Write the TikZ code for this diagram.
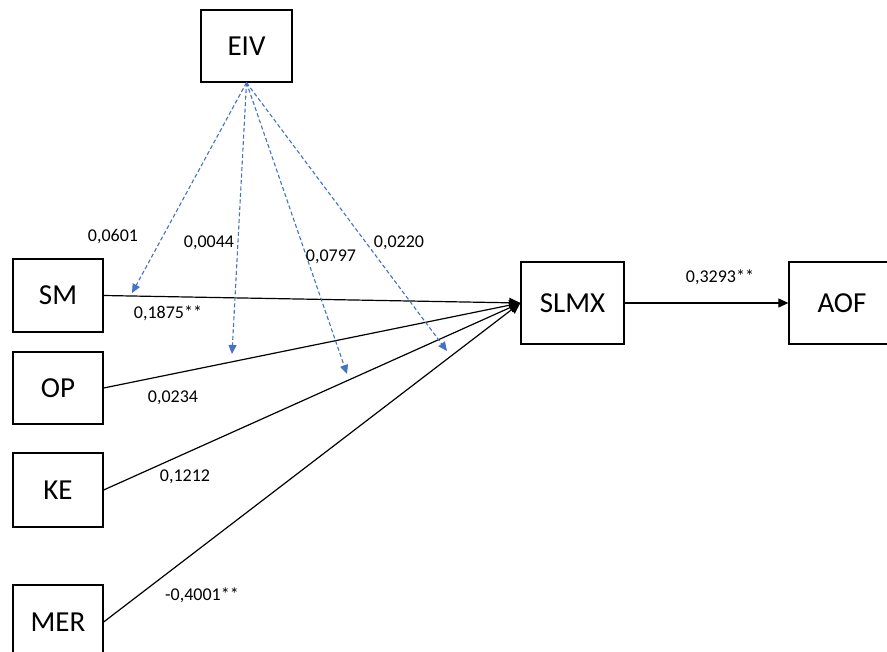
\documentclass[tikz,border=0pt]{standalone}
\usepackage{fontspec}
\setmainfont{Carlito}
\usetikzlibrary{arrows.meta}
\definecolor{dashblue}{HTML}{4472C4}
\begin{document}
\begin{tikzpicture}[x=1pt,y=-1pt,
  box/.style={draw=black,line width=1.3pt,font=\fontsize{29}{32}\selectfont,inner sep=0pt},
  lbl/.style={font=\fontsize{18}{20}\selectfont,inner sep=0pt},
  path/.style={draw=black,line width=1.2pt},
  modline/.style={draw=dashblue,line width=1.1pt,dash pattern=on 4pt off 2.5pt,-{Triangle[length=9pt,width=8pt]}}
]
\useasboundingbox (0,0) rectangle (887,652);
\node[box,minimum width=90pt,minimum height=73pt] (SM) at (58,295.5) {SM};
\node[box,minimum width=90pt,minimum height=72pt] (OP) at (58,388) {OP};
\node[box,minimum width=90pt,minimum height=74pt] (KE) at (58,490) {KE};
\node[box,minimum width=90pt,minimum height=74pt] (MER) at (58,622) {MER};
\node[box,minimum width=91pt,minimum height=72pt] (EIV) at (246.5,46) {EIV};
\node[box,minimum width=103pt,minimum height=82pt] (SLMX) at (572.5,303) {SLMX};
\node[box,minimum width=106pt,minimum height=82pt] (AOF) at (842,303) {AOF};

\coordinate (t1) at (132,293);
\coordinate (t2) at (232,354);
\coordinate (t3) at (347,374);
\coordinate (t4) at (447,351);

\foreach \s in {SM,OP,KE,MER}
  \draw[path,-{Triangle[length=11pt,width=10pt]}] (\s.east) -- (SLMX.west);
\draw[path,-{Triangle[length=10pt,width=9pt]}] (SLMX.east) -- (AOF.west);

\foreach \t in {t1,t2,t3,t4}
  \draw[modline] (EIV.south) -- (\t);

\node[lbl] (l1) at (113,237) {0,0601};
\node[lbl] (l2) at (209,243) {0,0044};
\node[lbl] (l3) at (331,257) {0,0797};
\node[lbl] (l4) at (399,243) {0,0220};
\node[lbl] (l5) at (168,313) {0,1875**};
\node[lbl] (l6) at (173,398) {0,0234};
\node[lbl] (l7) at (185,477) {0,1212};
\node[lbl] (l8) at (202,595) {-0,4001**};
\node[lbl] (l9) at (720,277) {0,3293**};
\end{tikzpicture}
\end{document}
